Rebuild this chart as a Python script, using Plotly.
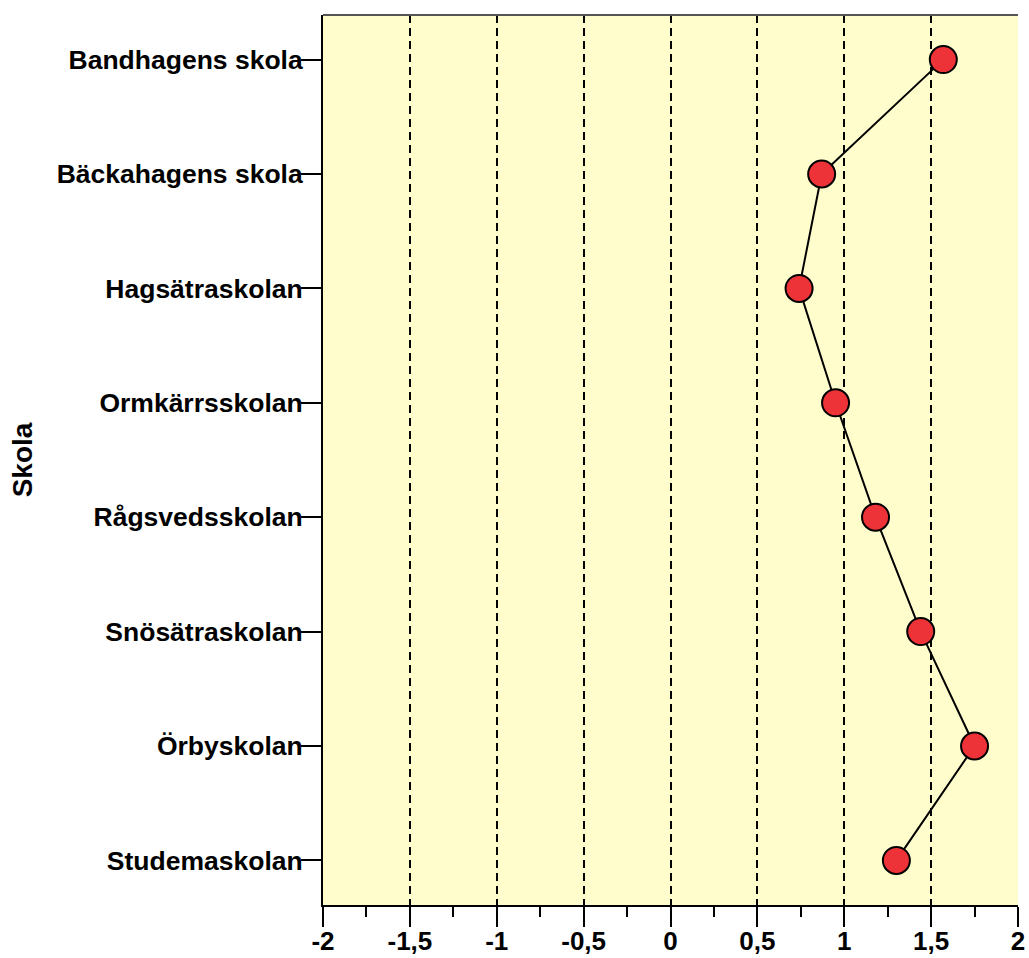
import plotly.graph_objects as go

schools = ["Bandhagens skola", "Bäckahagens skola", "Hagsätraskolan", "Ormkärrsskolan",
           "Rågsvedsskolan", "Snösätraskolan", "Örbyskolan", "Studemaskolan"]
values = [1.57, 0.87, 0.74, 0.95, 1.18, 1.44, 1.75, 1.30]
x_tick_vals = [-2, -1.5, -1, -0.5, 0, 0.5, 1, 1.5, 2]
x_tick_labels = ["-2", "-1,5", "-1", "-0,5", "0", "0,5", "1", "1,5", "2"]

FONT = "Liberation Sans, Arial, sans-serif"

fig = go.Figure()
fig.add_trace(go.Scatter(
    x=values, y=schools, mode="lines+markers",
    line=dict(color="black", width=2),
    marker=dict(size=27, color="#EE3338", line=dict(color="black", width=2)),
    showlegend=False, cliponaxis=False,
))

fig.update_layout(
    width=1029, height=958,
    margin=dict(l=323, r=11, t=15, b=53),
    paper_bgcolor="white", plot_bgcolor="#FFFDCC",
    font=dict(family=FONT, size=26.5, color="black"),
    xaxis=dict(
        automargin=False,
        range=[-2, 2], tickmode="array", tickvals=x_tick_vals, ticktext=x_tick_labels,
        ticks="outside", ticklen=20, tickwidth=2, tickcolor="black",
        tickfont=dict(family=FONT, size=26, color="black", weight="bold"),
        ticklabelstandoff=-8,
        showline=True, linecolor="black", linewidth=2,
        showgrid=True, gridcolor="black", gridwidth=2, griddash="8px,5px",
        zeroline=False,
        minor=dict(tickmode="linear", tick0=-2, dtick=0.25, ticks="outside", ticklen=10,
                   tickwidth=2, tickcolor="black", showgrid=False),
    ),
    yaxis=dict(
        automargin=False,
        type="category", categoryorder="array", categoryarray=schools,
        range=[7.39, -0.39],
        ticks="outside", ticklen=20, tickwidth=2, tickcolor="black",
        tickfont=dict(family=FONT, size=26.5, color="black", weight="bold"),
        ticklabelstandoff=-7,
        showline=True, linecolor="black", linewidth=2,
        showgrid=False, zeroline=False,
        title=dict(text="<b>Skola</b>", font=dict(family=FONT, size=28, color="black"), standoff=16),
    ),
    shapes=[dict(type="line", xref="paper", yref="paper", x0=0, x1=1, y0=1, y1=1,
                 line=dict(color="#555555", width=2), layer="above")],
)

fig.write_html("out.html", config={"displayModeBar": False},
               post_script="document.body.style.margin='0';document.body.style.overflow='hidden';")
